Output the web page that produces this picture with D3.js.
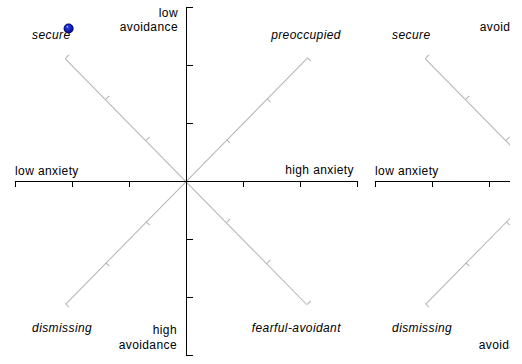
<!DOCTYPE html>
<html>
<head>
<meta charset="utf-8">
<script src="https://cdn.jsdelivr.net/npm/d3@7"></script>
<style>
  body { margin: 0; background: #fff; }
  svg text { font-family: "Liberation Sans", Arial, sans-serif; font-size: 12px; letter-spacing: 0.4px; fill: #000; }
  svg text.style { font-style: italic; }
</style>
</head>
<body>
<script>
const width = 510
const height = 364

// Dados
const anxietyTicks = [1, 2, 3, 4, 5, 6, 7]
const avoidanceTicks = [1, 2, 3, 4, 5, 6, 7]
const diagonalTicks = [-3, -2, -1, 1, 2, 3]
const styleNames = ["secure", "preoccupied", "dismissing", "fearful-avoidant"]
const anxietyLabels = ["low anxiety", "high anxiety"]
const avoidanceLow = ["low", "avoidance"]
const avoidanceHigh = ["high", "avoidance"]
const panel1Points = [{ anxiety: 1.94, avoidance: 1.37 }]
const panel2Points = []
const panels = [panel1Points, panel2Points]

const panelStep = 360
const mid = 4
const diagLen = 3

// Escalas
const x = d3.scaleLinear().domain([1, 7]).range([15, 357])
const y = d3.scaleLinear().domain([1, 7]).range([7, 355])

// Container
let svg = d3.select("body")
  .append("svg")
  .attr("width", width)
  .attr("height", height)
  .style("overflow", "hidden")

// Bola azul
let grad = svg.append("defs").append("radialGradient")
  .attr("id", "ball")
  .attr("cx", "50%").attr("cy", "50%").attr("r", "50%")
  .attr("fx", "35%").attr("fy", "30%")
grad.append("stop").attr("offset", "0%").attr("stop-color", "#d8dcff")
grad.append("stop").attr("offset", "22%").attr("stop-color", "#3040e0")
grad.append("stop").attr("offset", "75%").attr("stop-color", "#0c169e")
grad.append("stop").attr("offset", "100%").attr("stop-color", "#000060")

const cx = x(mid)
const cy = y(mid)
const d = diagLen / Math.SQRT2
const ends = {
  secure: [x(mid - d), y(mid - d)],
  preoccupied: [x(mid + d), y(mid - d)],
  dismissing: [x(mid - d), y(mid + d)],
  fearful: [x(mid + d), y(mid + d)]
}
const diagPx = Math.hypot(ends.fearful[0] - cx, ends.fearful[1] - cy)
const diag = d3.scaleLinear().domain([-diagLen, diagLen]).range([-diagPx, diagPx])
const angDown = Math.atan2(ends.fearful[1] - cy, ends.fearful[0] - cx) * 180 / Math.PI
const angUp = Math.atan2(ends.preoccupied[1] - cy, ends.preoccupied[0] - cx) * 180 / Math.PI

panels.forEach((points, i) => {
  let g = svg.append("g").attr("transform", `translate(${i * panelStep},0)`)

  // Diagonais
  g.append("g")
    .attr("transform", `translate(${cx},${cy}) rotate(${angDown})`)
    .style("color", "#b4b4b4")
    .call(d3.axisTop(diag).tickValues(diagonalTicks).tickSize(5).tickSizeOuter(0).tickFormat(""))
  g.append("g")
    .attr("transform", `translate(${cx},${cy}) rotate(${angUp})`)
    .style("color", "#b4b4b4")
    .call(d3.axisBottom(diag).tickValues(diagonalTicks).tickSize(5).tickSizeOuter(0).tickFormat(""))

  // Eixos
  g.append("g")
    .attr("transform", `translate(0,${cy})`)
    .call(d3.axisBottom(x).tickValues(anxietyTicks).tickSize(6).tickSizeOuter(0).tickFormat(""))
  g.append("g")
    .attr("transform", `translate(${cx},0)`)
    .call(d3.axisRight(y).tickValues(avoidanceTicks).tickSize(7).tickSizeOuter(0).tickFormat(""))

  // Rotulos
  g.append("text").attr("x", x(1)).attr("y", cy - 6).text(anxietyLabels[0])
  g.append("text").attr("x", x(7) - 3).attr("y", cy - 7)
    .attr("text-anchor", "end").text(anxietyLabels[1])

  avoidanceLow.forEach((t, j) => {
    g.append("text").attr("x", cx - 8).attr("y", y(1) + 10 + j * 14)
      .attr("text-anchor", "end").text(t)
  })
  avoidanceHigh.forEach((t, j) => {
    g.append("text").attr("x", cx - 9).attr("y", y(7) - 21 + j * 15)
      .attr("text-anchor", "end").text(t)
  })

  g.append("text").attr("class", "style")
    .attr("x", ends.secure[0] - 33).attr("y", ends.secure[1] - 19).text(styleNames[0])
  g.append("text").attr("class", "style").attr("text-anchor", "end")
    .attr("x", ends.preoccupied[0] + 34).attr("y", ends.preoccupied[1] - 19).text(styleNames[1])
  g.append("text").attr("class", "style")
    .attr("x", ends.dismissing[0] - 33).attr("y", ends.dismissing[1] + 28).text(styleNames[2])
  g.append("text").attr("class", "style").attr("text-anchor", "end")
    .attr("x", ends.fearful[0] + 34).attr("y", ends.fearful[1] + 28).text(styleNames[3])

  // Textos que ficam fora da area visivel
  g.selectAll("text")
    .filter(function () { return this.getBBox().x + i * panelStep >= width })
    .remove()

  // Pontos
  g.selectAll(".pt")
    .data(points)
    .enter()
    .append("circle")
    .attr("class", "pt")
    .attr("cx", p => x(p.anxiety))
    .attr("cy", p => y(p.avoidance))
    .attr("r", 5)
    .style("fill", "url(#ball)")
})
</script>
</body>
</html>
